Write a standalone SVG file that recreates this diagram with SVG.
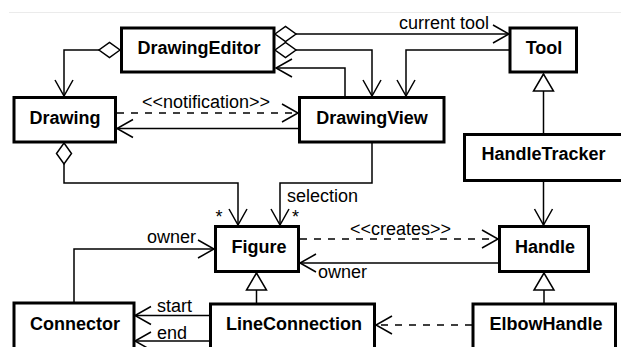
<svg xmlns="http://www.w3.org/2000/svg" width="621" height="347" viewBox="0 0 621 347">
<style>
.box{fill:#fff;stroke:#000;stroke-width:3}
.name{font-family:"Liberation Sans",Arial,sans-serif;font-weight:bold;font-size:18px;text-anchor:middle;fill:#000}
.lbl{font-family:"Liberation Sans",Arial,sans-serif;font-size:18px;fill:#000}
.ln{fill:none;stroke:#000;stroke-width:1.5}
.dash{stroke-dasharray:7 7}
</style>
<defs>
<marker id="arr" markerUnits="userSpaceOnUse" orient="auto" markerWidth="20" markerHeight="22" refX="0" refY="0" viewBox="-18 -11 20 22" overflow="visible">
<path d="M-16,-9 L0,0 L-16,9" fill="none" stroke="#000" stroke-width="1.5"/>
</marker>
<marker id="dia" markerUnits="userSpaceOnUse" orient="auto" markerWidth="22" markerHeight="18" refX="0" refY="0" viewBox="-1 -9 22 18" overflow="visible">
<path d="M0,0 L10.5,-7.5 L21,0 L10.5,7.5 Z" fill="#fff" stroke="#000" stroke-width="1.5"/>
</marker>
<marker id="tri" markerUnits="userSpaceOnUse" orient="auto" markerWidth="20" markerHeight="24" refX="0" refY="0" viewBox="-19 -12 20 24" overflow="visible">
<path d="M0,0 L-17,-10 L-17,10 Z" fill="#fff" stroke="#000" stroke-width="1.5"/>
</marker>
</defs>
<rect width="621" height="347" fill="#fff"/>
<line x1="9" y1="12.5" x2="621" y2="12.5" stroke="#ebebeb" stroke-width="1"/>

<g id="connectors">
<path class="ln" d="M120,50 H64 V96" marker-start="url(#dia)" marker-end="url(#arr)"/>
<path class="ln" d="M275,34 H509" marker-start="url(#dia)" marker-end="url(#arr)"/>
<path class="ln" d="M275,50 H372 V96" marker-start="url(#dia)" marker-end="url(#arr)"/>
<path class="ln" d="M345,96 V68 H276" marker-end="url(#arr)"/>
<path class="ln" d="M509,50 H406 V96" marker-end="url(#arr)"/>
<path class="ln dash" d="M117,113 H298" marker-end="url(#arr)"/>
<path class="ln" d="M298,128.5 H117" marker-end="url(#arr)"/>
<path class="ln" d="M64,143 V183 H238 V225" marker-start="url(#dia)" marker-end="url(#arr)"/>
<path class="ln" d="M372,143 V183 H280 V225" marker-end="url(#arr)"/>
<path class="ln dash" d="M300,239 H498" marker-end="url(#arr)"/>
<path class="ln" d="M498,263 H300" marker-end="url(#arr)"/>
<path class="ln" d="M543.5,182 V225" marker-end="url(#arr)"/>
<path class="ln" d="M543.5,134 V74" marker-end="url(#tri)"/>
<path class="ln" d="M74,302 V249 H214" marker-end="url(#arr)"/>
<path class="ln" d="M256.5,303 V273" marker-end="url(#tri)"/>
<path class="ln" d="M544,303 V273" marker-end="url(#tri)"/>
<path class="ln" d="M209,315.5 H135" marker-end="url(#arr)"/>
<path class="ln" d="M209,341 H135" marker-end="url(#arr)"/>
<path class="ln dash" d="M472,325 H376" marker-end="url(#arr)"/>
<text class="lbl" x="399" y="29">current tool</text>
<text class="lbl" x="142" y="107.5">&lt;&lt;notification&gt;&gt;</text>
<text class="lbl" x="219" y="222.5" text-anchor="middle">*</text>
<text class="lbl" x="287" y="202">selection</text>
<text class="lbl" x="295.5" y="222.5" text-anchor="middle">*</text>
<text class="lbl" x="350" y="235">&lt;&lt;creates&gt;&gt;</text>
<text class="lbl" x="318" y="278">owner</text>
<text class="lbl" x="147" y="243">owner</text>
<text class="lbl" x="157" y="312">start</text>
<text class="lbl" x="157" y="339">end</text>
</g>

<g id="DrawingEditor"><rect class="box" x="121.5" y="28" width="152.5" height="44"/><text class="name" x="199" y="54">DrawingEditor</text></g>
<g id="Tool"><rect class="box" x="510" y="28" width="66.5" height="44"/><text class="name" x="544" y="54">Tool</text></g>
<g id="Drawing"><rect class="box" x="14" y="97.5" width="101.5" height="44.5"/><text class="name" x="65" y="124">Drawing</text></g>
<g id="DrawingView"><rect class="box" x="299.5" y="97.5" width="144.5" height="44.5"/><text class="name" x="372" y="124">DrawingView</text></g>
<g id="HandleTracker"><rect class="box" x="464.5" y="134.5" width="158" height="46"/><text class="name" x="543.5" y="160">HandleTracker</text></g>
<g id="Figure"><rect class="box" x="215.5" y="226.5" width="83" height="45"/><text class="name" x="259" y="252.5">Figure</text></g>
<g id="Handle"><rect class="box" x="499.5" y="226.5" width="89" height="45"/><text class="name" x="545" y="252.5">Handle</text></g>
<g id="Connector"><rect class="box" x="14" y="303" width="120" height="60"/><text class="name" x="75" y="330">Connector</text></g>
<g id="LineConnection"><rect class="box" x="210.5" y="304" width="164" height="60"/><text class="name" x="294" y="330">LineConnection</text></g>
<g id="ElbowHandle"><rect class="box" x="473" y="304" width="142.5" height="60"/><text class="name" x="546" y="330">ElbowHandle</text></g>
</svg>
